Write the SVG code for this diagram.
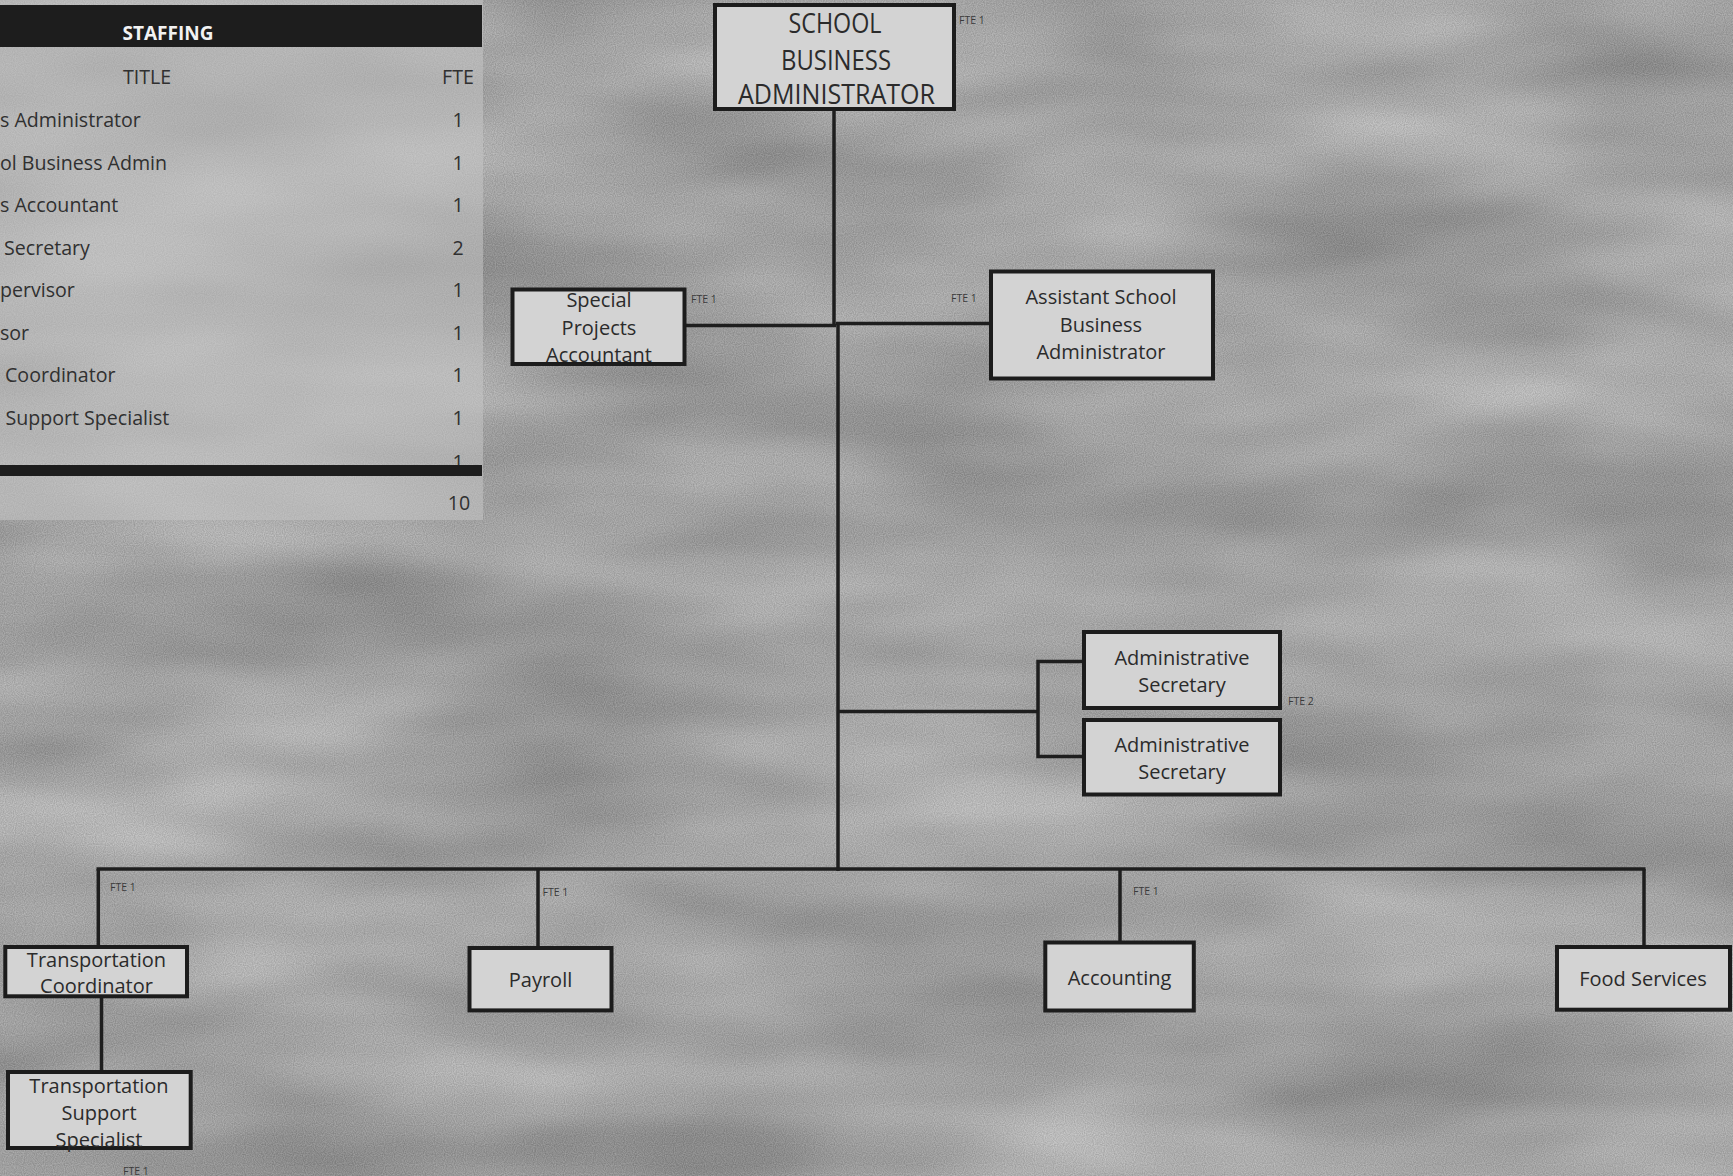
<svg xmlns="http://www.w3.org/2000/svg" width="1733" height="1176" viewBox="0 0 1733 1176">
<style>
  .lbl { font-family: "Open Sans", "Noto Sans", "DejaVu Sans", sans-serif; font-size: 20px; fill: #2b2b2b; text-anchor: middle; }
  .big { font-family: "Open Sans", "Noto Sans", "DejaVu Sans", sans-serif; font-size: 27px; fill: #2b2b2b; text-anchor: middle; }
  .fte { font-family: "Open Sans", "Noto Sans", "DejaVu Sans", sans-serif; font-size: 10.5px; fill: #3a3a3a; }
  .row { font-family: "Open Sans", "Noto Sans", "DejaVu Sans", sans-serif; font-size: 19.6px; fill: #303030; }
  .num { font-family: "Open Sans", "Noto Sans", "DejaVu Sans", sans-serif; font-size: 19.6px; fill: #303030; text-anchor: middle; }
  .box { fill: #d3d3d3; stroke: #1c1c1c; stroke-width: 4; }
  .wire { fill: none; stroke: #1e1e1e; stroke-width: 3.5; }
</style>
<defs>
  <filter id="mottle" x="0" y="0" width="1733" height="1176" filterUnits="userSpaceOnUse" color-interpolation-filters="sRGB">
    <feTurbulence type="fractalNoise" baseFrequency="0.0025 0.009" numOctaves="3" seed="7" result="n1"/>
    <feColorMatrix in="n1" type="matrix" values="0.32 0 0 0 0.47  0.32 0 0 0 0.47  0.32 0 0 0 0.47  0 0 0 0 1" result="g1"/>
    <feTurbulence type="fractalNoise" baseFrequency="0.9" numOctaves="1" seed="3" result="n2"/>
    <feColorMatrix in="n2" type="matrix" values="1 0 0 0 0  1 0 0 0 0  1 0 0 0 0  0 0 0 0 1" result="g2"/>
    <feComposite in="g1" in2="g2" operator="arithmetic" k1="0" k2="1" k3="0.22" k4="-0.11"/>
  </filter>
</defs>

<rect x="0" y="0" width="1733" height="1176" fill="#a4a4a4"/>
<rect x="0" y="0" width="1733" height="1176" filter="url(#mottle)"/>

<g id="staffing-table">
  <rect x="0" y="0" width="483" height="520" fill="#c4c4c4" opacity="0.55"/>
  <rect x="0" y="5" width="482" height="42" fill="#1d1d1d"/>
  <text x="168" y="40" font-family="Open Sans, Noto Sans, DejaVu Sans, sans-serif" font-size="19" font-weight="bold" fill="#f2f2f2" text-anchor="middle">STAFFING</text>
  <text x="147" y="84" class="num" font-size="18">TITLE</text>
  <text x="458" y="84" class="num" font-size="18">FTE</text>
  <text x="0" y="127" class="row">s Administrator</text>
  <text x="0" y="169.5" class="row">ol Business Admin</text>
  <text x="0" y="212" class="row">s Accountant</text>
  <text x="4" y="254.5" class="row">Secretary</text>
  <text x="0" y="297" class="row">pervisor</text>
  <text x="0" y="339.5" class="row">sor</text>
  <text x="5" y="382" class="row">Coordinator</text>
  <text x="5.5" y="424.5" class="row">Support Specialist</text>
  <text x="458" y="127" class="num">1</text>
  <text x="458" y="169.5" class="num">1</text>
  <text x="458" y="212" class="num">1</text>
  <text x="458" y="254.5" class="num">2</text>
  <text x="458" y="297" class="num">1</text>
  <text x="458" y="339.5" class="num">1</text>
  <text x="458" y="382" class="num">1</text>
  <text x="458" y="424.5" class="num">1</text>
  <text x="458" y="469" class="num">1</text>
  <rect x="0" y="465" width="482" height="11" fill="#1d1d1d"/>
  <text x="459" y="510" class="num">10</text>
</g>

<g id="connectors">
  <path class="wire" d="M834 110 V325"/>
  <path class="wire" d="M838 323 V871"/>
  <path class="wire" d="M686 325.5 H836"/>
  <path class="wire" d="M836 323.5 H990"/>
  <path class="wire" d="M838 711.5 H1038"/>
  <path class="wire" d="M1083 661.5 H1038 V756.5 H1083"/>
  <path class="wire" d="M96.5 869 H1645.5"/>
  <path class="wire" d="M98.3 869 V946"/>
  <path class="wire" d="M538 869 V947"/>
  <path class="wire" d="M1120 869 V941"/>
  <path class="wire" d="M1644 869 V946"/>
  <path class="wire" d="M101.5 998 V1071"/>
</g>

<g id="school-business-administrator">
  <rect class="box" x="715" y="5" width="239" height="104"/>
  <text class="big" x="835" y="33" textLength="93" lengthAdjust="spacingAndGlyphs">SCHOOL</text>
  <text class="big" x="836" y="69.5" textLength="110" lengthAdjust="spacingAndGlyphs">BUSINESS</text>
  <text class="big" x="836.5" y="104" textLength="197" lengthAdjust="spacingAndGlyphs">ADMINISTRATOR</text>
  <text class="fte" x="959" y="24">FTE 1</text>
</g>

<g id="special-projects-accountant">
  <rect class="box" x="512.5" y="289.5" width="172" height="74.5"/>
  <text class="lbl" x="599" y="307">Special</text>
  <text class="lbl" x="599" y="334.5">Projects</text>
  <text class="lbl" x="599" y="362">Accountant</text>
  <text class="fte" x="691" y="303">FTE 1</text>
</g>

<g id="assistant-school-business-administrator">
  <rect class="box" x="991" y="271.5" width="222" height="107"/>
  <text class="lbl" x="1101" y="304">Assistant School</text>
  <text class="lbl" x="1101" y="331.5">Business</text>
  <text class="lbl" x="1101" y="359">Administrator</text>
  <text class="fte" x="951" y="302">FTE 1</text>
</g>

<g id="administrative-secretary-1">
  <rect class="box" x="1084" y="632" width="196" height="76"/>
  <text class="lbl" x="1182" y="665">Administrative</text>
  <text class="lbl" x="1182" y="692">Secretary</text>
  <text class="fte" x="1288" y="705">FTE 2</text>
</g>

<g id="administrative-secretary-2">
  <rect class="box" x="1084" y="720" width="196" height="74.5"/>
  <text class="lbl" x="1182" y="752">Administrative</text>
  <text class="lbl" x="1182" y="778.5">Secretary</text>
</g>

<g id="transportation-coordinator">
  <rect class="box" x="5.3" y="947" width="181.7" height="49.3"/>
  <text class="lbl" x="96.5" y="966.5">Transportation</text>
  <text class="lbl" x="96.5" y="993">Coordinator</text>
  <text class="fte" x="110" y="891">FTE 1</text>
</g>

<g id="transportation-support-specialist">
  <rect class="box" x="8" y="1072" width="182.7" height="76"/>
  <text class="lbl" x="99" y="1093">Transportation</text>
  <text class="lbl" x="99" y="1120">Support</text>
  <text class="lbl" x="99" y="1146.5">Specialist</text>
  <text class="fte" x="123" y="1175">FTE 1</text>
</g>

<g id="payroll">
  <rect class="box" x="469.5" y="948" width="142" height="62.4"/>
  <text class="lbl" x="540.5" y="987">Payroll</text>
  <text class="fte" x="542.5" y="896">FTE 1</text>
</g>

<g id="accounting">
  <rect class="box" x="1045.3" y="942.5" width="148.5" height="68"/>
  <text class="lbl" x="1119.5" y="984.5">Accounting</text>
  <text class="fte" x="1133" y="895">FTE 1</text>
</g>

<g id="food-services">
  <rect class="box" x="1557" y="947" width="173" height="62.7"/>
  <text class="lbl" x="1643" y="986">Food Services</text>
</g>
</svg>
